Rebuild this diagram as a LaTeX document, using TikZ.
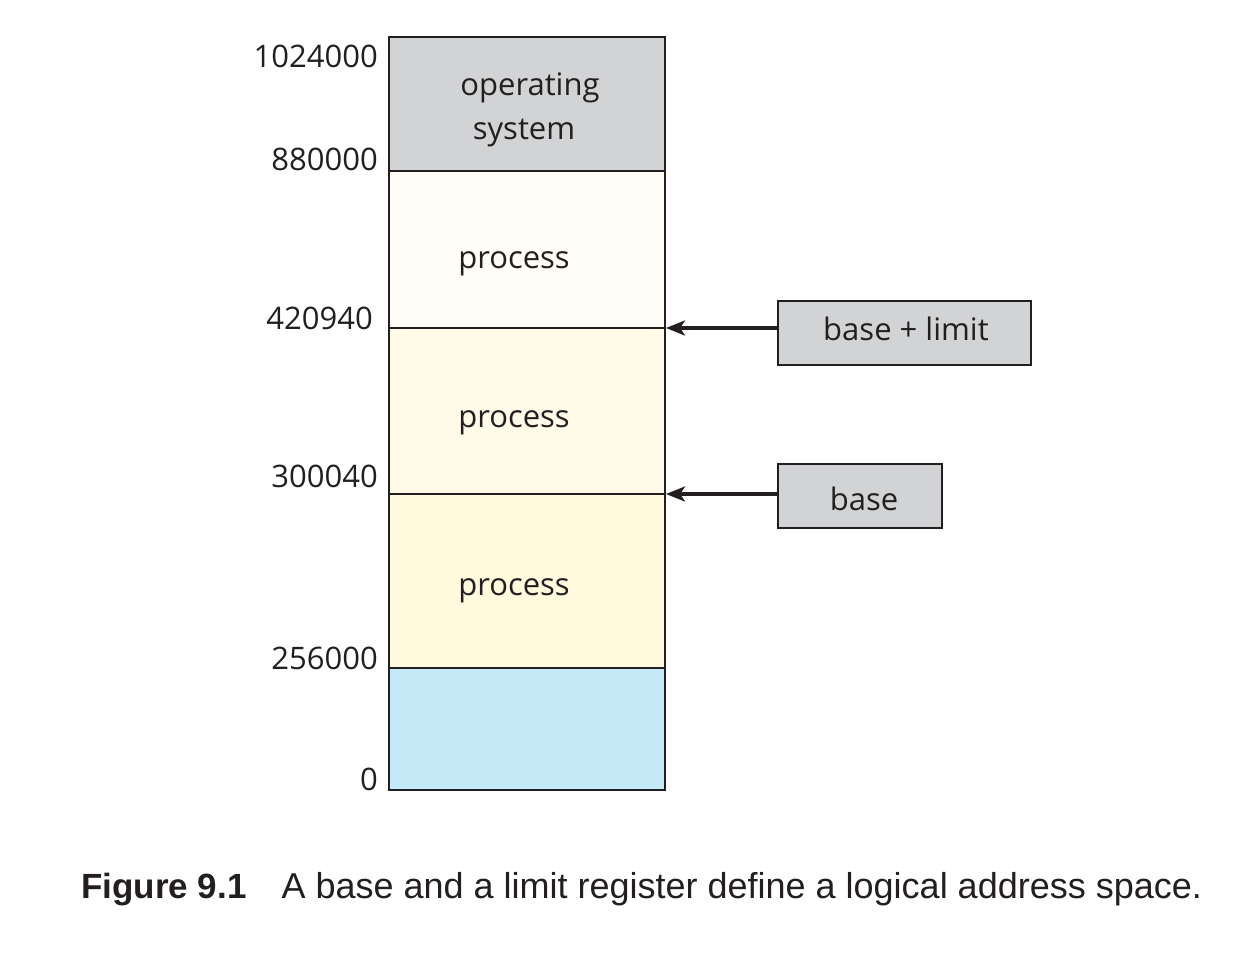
\documentclass[tikz,border=0pt]{standalone}
\usepackage{fontspec}
\setmainfont{Open Sans}
\newfontfamily\capfont{Liberation Sans}
\usetikzlibrary{arrows.meta}
\definecolor{ink}{HTML}{231F20}
\definecolor{osgray}{HTML}{D1D3D4}
\definecolor{procA}{HTML}{FFFDF5}
\definecolor{procB}{HTML}{FFFBE8}
\definecolor{procC}{HTML}{FFF9DE}
\definecolor{lowblue}{HTML}{C6E9F8}
\tikzset{
  seg/.style={draw=ink, line width=2.4pt},
  addr/.style={inner sep=0pt, anchor=base east, font=\fontsize{31}{38}\selectfont, text=ink},
  lbl/.style={inner sep=0pt, anchor=base, font=\fontsize{31}{38}\selectfont, text=ink},
  reg/.style={draw=ink, line width=2.4pt, fill=osgray},
  ptr/.style={draw=ink, line width=3.6pt, -{Stealth[length=19pt, width=15pt, inset=5pt]}},
}
\begin{document}
\begin{tikzpicture}[x=1pt, y=-1pt]
\useasboundingbox (0,0) rectangle (1259,978);
% memory segments
\path[seg, fill=osgray] (389,37) rectangle (665,171);
\path[seg, fill=procA] (389,171) rectangle (665,328);
\path[seg, fill=procB] (389,328) rectangle (665,494);
\path[seg, fill=procC] (389,494) rectangle (665,668);
\path[seg, fill=lowblue] (389,668) rectangle (665,790);
\coordinate (limitline) at (666,328);
\coordinate (baseline) at (666,494);
% segment labels
\node[lbl] (os1) at (530,95) {operating};
\node[lbl] (os2) at (524,139) {system};
\node[lbl] (p1) at (514,268) {process};
\node[lbl] (p2) at (514,427) {process};
\node[lbl] (p3) at (514,595) {process};
% addresses
\node[addr] (a1) at (378,67) {1024000};
\node[addr] (a2) at (378,170) {880000};
\node[addr] (a3) at (373,329) {420940};
\node[addr] (a4) at (378,487) {300040};
\node[addr] (a5) at (378,669) {256000};
\node[addr] (a6) at (378,790) {0};
% registers
\node[reg, minimum width=253pt, minimum height=64pt, inner sep=0pt, anchor=north west] (bl) at (777,300) {};
\node[lbl] (bltext) at (906,340) {base + limit};
\node[reg, minimum width=164pt, minimum height=64pt, inner sep=0pt, anchor=north west] (b) at (777,463) {};
\node[lbl] (btext) at (864,510) {base};
\draw[ptr] (bl.west |- limitline) -- (limitline);
\draw[ptr] (b.west |- baseline) -- (baseline);
% caption
\node[inner sep=0pt, anchor=base west, font=\capfont\fontsize{36}{42}\selectfont, text=ink] (cap) at (81,898)
  {{\fontsize{35}{42}\selectfont\textbf{Figure 9.1}}\hspace{35pt}A base and a limit register define a logical address space.};
\end{tikzpicture}
\end{document}
